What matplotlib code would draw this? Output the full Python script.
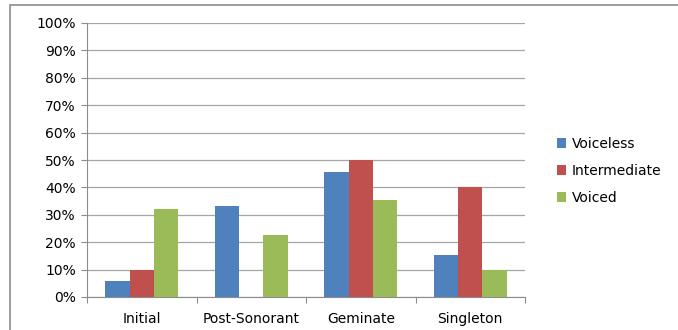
import matplotlib
matplotlib.use("Agg")
import matplotlib.pyplot as plt
import numpy as np
from matplotlib.patches import Rectangle

categories = ["Initial", "Post-Sonorant", "Geminate", "Singleton"]
series = ["Voiceless", "Intermediate", "Voiced"]
voiceless = [6.0, 33.3, 45.6, 15.2]
intermediate = [10.0, 0.0, 50.0, 40.0]
voiced = [32.2, 22.6, 35.4, 10.0]
colors = ["#4F81BD", "#C0504D", "#9BBB59"]

plt.rcParams['font.family'] = ['DejaVu Sans']

fig = plt.figure(figsize=(6.78, 3.30), dpi=100)
ax = fig.add_axes([87 / 678, 1 - 297 / 330, (525 - 87) / 678, (297 - 23) / 330])

# outer chart frame
fig.patches.append(Rectangle((10 / 678, -0.1), 1.0, 1 - 5 / 330 + 0.1,
                             transform=fig.transFigure, fill=False,
                             edgecolor="#8c8c8c", linewidth=1.2))

x = np.arange(len(categories))
w = 0.222
for i, (vals, c, name) in enumerate(zip([voiceless, intermediate, voiced], colors, series)):
    ax.bar(x + (i - 1) * w, vals, width=w, color=c, label=name, zorder=3)

ax.set_xlim(-0.5, 3.5)
ax.set_ylim(0, 100)
ax.set_yticks(np.arange(0, 101, 10))
ax.set_yticklabels([f"{v}%" for v in range(0, 101, 10)])
ax.yaxis.grid(True, color="#a6a6a6", linewidth=0.9, zorder=0)

ax.set_xticks(np.arange(-0.5, 4, 1))
ax.set_xticklabels([])
ax.set_xticks(x, minor=True)
ax.set_xticklabels(categories, minor=True)
ax.tick_params(axis="x", which="major", length=4, color="#8c8c8c", direction="out")
ax.tick_params(axis="x", which="minor", length=0, pad=10.5, labelsize=10)
ax.tick_params(axis="y", length=4, color="#8c8c8c", labelsize=10, pad=4)

for s in ["top", "right"]:
    ax.spines[s].set_visible(False)
for s in ["left", "bottom"]:
    ax.spines[s].set_color("#8c8c8c")

fig.legend(loc="upper left", bbox_to_anchor=(551 / 678, 1 - 131 / 330),
           frameon=False, fontsize=10, handlelength=0.7, handleheight=0.7,
           handletextpad=0.4, labelspacing=0.95, borderaxespad=0)

fig.savefig("out.png", dpi=100)
